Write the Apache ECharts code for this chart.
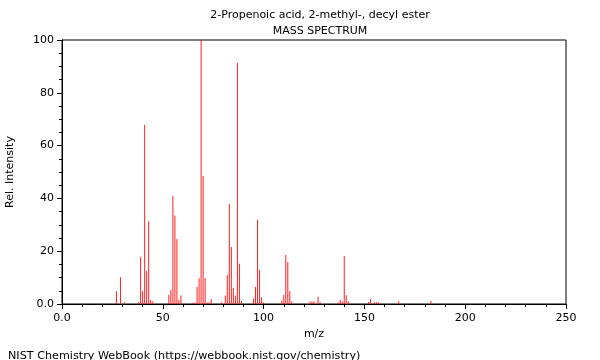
<!DOCTYPE html>
<html><head><meta charset="utf-8">
<script src="https://cdn.jsdelivr.net/npm/echarts@6/dist/echarts.min.js"></script>
<style>html,body{margin:0;padding:0;background:#fff}#c{width:600px;height:360px}</style>
</head><body><div id="c"></div>
<script>
var chartTitle = "2-Propenoic acid, 2-methyl-, decyl ester";
var chartSubtitle = "MASS SPECTRUM";
var footerText = "NIST Chemistry WebBook (https://webbook.nist.gov/chemistry)";
var xAxisName = "m/z";
var yAxisName = "Rel. Intensity";
var mz = [27, 29, 31, 38, 39, 40, 41, 42, 43, 44, 45, 53, 54, 55, 56, 57, 58, 59, 65, 66, 67, 68, 69, 70, 71, 72, 73, 74, 79, 81, 82, 83, 84, 85, 86, 87, 88, 89, 95, 96, 97, 98, 99, 100, 109, 110, 111, 112, 113, 114, 123, 124, 125, 127, 128, 137, 138, 139, 140, 141, 142, 152, 153, 155, 156, 157, 167, 183];
var intensity = [4.8, 10.1, 0.7, 0.7, 17.9, 4.8, 67.8, 12.5, 31.3, 1.5, 0.9, 3.4, 5.3, 41.0, 33.5, 24.6, 1.5, 3.2, 0.5, 0.5, 6.4, 9.8, 100, 48.5, 9.8, 0.6, 0.6, 1.8, 0.7, 3.2, 11.0, 37.9, 21.6, 6.2, 3.2, 91.3, 15.2, 1.1, 2.1, 6.4, 31.9, 13.0, 2.6, 0.6, 1.2, 3.4, 18.6, 15.9, 4.8, 0.9, 0.9, 0.9, 0.9, 2.7, 0.8, 0.6, 1.6, 0.9, 18.2, 3.3, 0.9, 0.8, 2.0, 0.7, 0.7, 0.7, 1.0, 1.1];
var xTicks = {min: 0, max: 250, step: 50};
var yTicks = {min: 0, max: 100, step: 20};

var data = mz.map(function (m, i) { return [m, intensity[i]]; });
var font = "DejaVu Sans";
var chart = echarts.init(document.getElementById('c'), null, {renderer: 'canvas'});
chart.setOption({
  animation: false,
  backgroundColor: '#fff',
  title: [
    {text: chartTitle, left: 315, top: 5, textAlign: 'center',
     textStyle: {fontFamily: font, fontSize: 11, fontWeight: 'normal', color: '#000'}},
    {text: chartSubtitle, left: 315, top: 21, textAlign: 'center',
     textStyle: {fontFamily: font, fontSize: 11, fontWeight: 'normal', color: '#000'}},
    {text: footerText, left: 3, top: 346,
     textStyle: {fontFamily: font, fontSize: 11.2, fontWeight: 'normal', color: '#000'}}
  ],
  grid: {left: 62, right: 34, top: 40, bottom: 56, containLabel: false, outerBoundsMode: 'none',
    show: true, borderColor: '#000', borderWidth: 1, backgroundColor: 'transparent'},
  xAxis: {
    type: 'value', min: xTicks.min, max: xTicks.max, interval: xTicks.step,
    name: xAxisName, nameLocation: 'middle', nameGap: 25,
    nameTextStyle: {fontFamily: font, fontSize: 11, color: '#000'},
    axisLine: {lineStyle: {color: '#000', width: 1}},
    axisTick: {show: true, length: 5, lineStyle: {color: '#000'}},
    minorTick: {show: true, splitNumber: 5, length: 3, lineStyle: {color: '#000'}},
    splitLine: {show: false},
    axisLabel: {fontFamily: font, fontSize: 11, color: '#000', margin: 9,
      formatter: function (v) { return v === 0 ? '0.0' : String(v); }}
  },
  yAxis: {
    type: 'value', min: yTicks.min, max: yTicks.max, interval: yTicks.step,
    name: yAxisName, nameLocation: 'middle', nameGap: 46,
    nameTextStyle: {fontFamily: font, fontSize: 11, color: '#000'},
    axisLine: {show: true, lineStyle: {color: '#000', width: 1}},
    axisTick: {show: true, length: 5, lineStyle: {color: '#000'}},
    minorTick: {show: true, splitNumber: 4, length: 3, lineStyle: {color: '#000'}},
    splitLine: {show: false},
    axisLabel: {fontFamily: font, fontSize: 11, color: '#000', margin: 8,
      formatter: function (v) { return v === 0 ? '0.0' : String(v); }}
  },
  series: [{
    type: 'bar', data: data, barWidth: 1, barGap: '-100%',
    itemStyle: {color: '#ff2020'}, silent: true
  }]
});
</script></body></html>
